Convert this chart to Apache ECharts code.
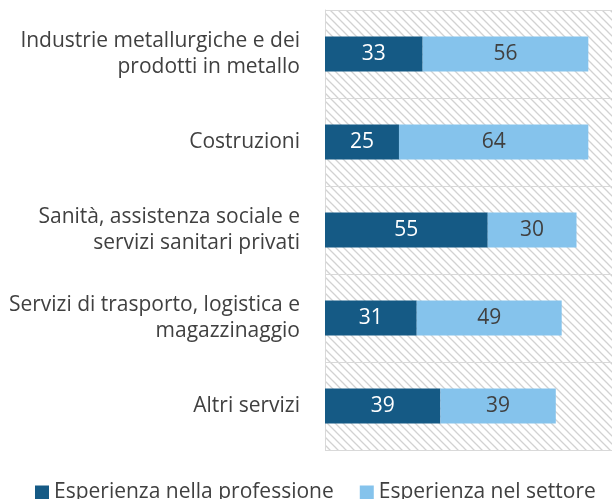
<!DOCTYPE html>
<html>
<head>
<meta charset="utf-8">
<script src="https://cdn.jsdelivr.net/npm/echarts@6/dist/echarts.min.js"></script>
<style>
html,body{margin:0;padding:0;background:#fff;}
#c{width:612px;height:499px;}
</style>
</head>
<body>
<div id="c"></div>
<script>
const categories = [
  "Industrie metallurgiche e dei\nprodotti in metallo",
  "Costruzioni",
  "Sanità, assistenza sociale e\nservizi sanitari privati",
  "Servizi di trasporto, logistica e\nmagazzinaggio",
  "Altri servizi"
];
const professione = [33, 25, 55, 31, 39];
const settore = [56, 64, 30, 49, 39];
const seriesNames = ["Esperienza nella professione", "Esperienza nel settore"];

// hatch pattern
const tile = document.createElement('canvas');
tile.width = 8; tile.height = 8;
const g = tile.getContext('2d');
g.fillStyle = '#ffffff';
g.fillRect(0, 0, 8, 8);
g.strokeStyle = '#d2d2d2';
g.lineWidth = 1.3;
g.beginPath();
g.moveTo(-1, -1); g.lineTo(9, 9);
g.moveTo(-1, 7); g.lineTo(1, 9);
g.moveTo(7, -1); g.lineTo(9, 1);
g.stroke();

const font = '"Open Sans", sans-serif';
const chart = echarts.init(document.getElementById('c'), null, {renderer: 'canvas'});
chart.setOption({
  animation: false,
  backgroundColor: '#ffffff',
  grid: {left: 325, top: 10, right: 0, height: 440, containLabel: false},
  xAxis: {
    type: 'value', min: 0, max: 97, show: false
  },
  yAxis: {
    type: 'category', inverse: true, data: categories,
    axisLine: {show: true, lineStyle: {color: '#d9d9d9', width: 1}},
    axisTick: {show: false},
    splitLine: {show: true, lineStyle: {color: '#d9d9d9', width: 1}},
    splitArea: {show: true, areaStyle: {color: [{image: tile, repeat: 'repeat'}]}},
    axisLabel: {
      margin: 25, color: '#404040', fontSize: 21, fontFamily: font,
      lineHeight: 26, align: 'right'
    }
  },
  legend: {
    top: 482, left: 35, itemWidth: 14, itemHeight: 14, itemGap: 26,
    icon: 'rect', padding: 0,
    textStyle: {color: '#404040', fontSize: 21, fontFamily: font},
    data: seriesNames
  },
  series: [
    {
      name: seriesNames[0], type: 'bar', stack: 'a', data: professione,
      barWidth: '40%',
      itemStyle: {color: '#155a85'},
      label: {show: true, position: 'inside', color: '#ffffff', fontSize: 21, fontFamily: font}
    },
    {
      name: seriesNames[1], type: 'bar', stack: 'a', data: settore,
      barWidth: '40%',
      itemStyle: {color: '#85c3ec'},
      label: {show: true, position: 'inside', color: '#404040', fontSize: 21, fontFamily: font}
    }
  ]
});
</script>
</body>
</html>
